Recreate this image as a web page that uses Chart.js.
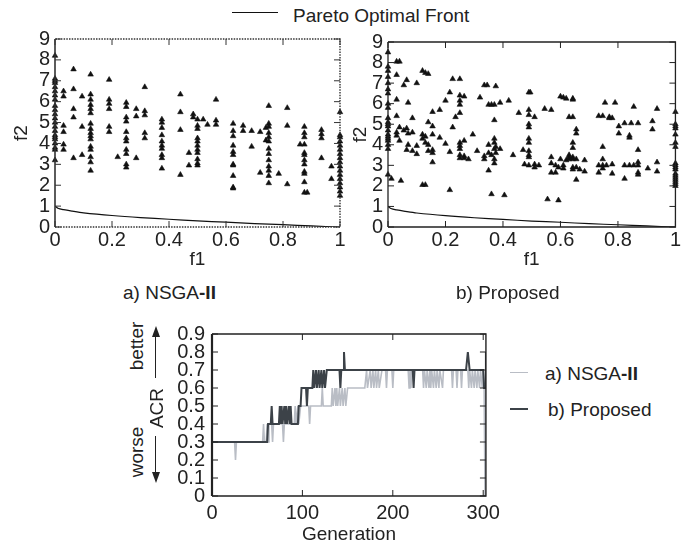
<!DOCTYPE html>
<html>
<head>
<meta charset="utf-8">
<script src="https://cdn.jsdelivr.net/npm/chart.js@4.4.1/dist/chart.umd.min.js"></script>
<style>
body{margin:0;width:682px;height:549px;position:relative;background:#fff;overflow:hidden;
  font-family:"Liberation Sans",Arial,sans-serif;color:#222}
canvas{position:absolute}
.t{position:absolute;font-size:19px;line-height:19px;white-space:nowrap}
.rot{position:absolute;font-size:19px;line-height:19px;white-space:nowrap;transform:translate(-50%,-50%) rotate(-90deg)}
.ln{position:absolute;height:0}
.shaft{position:absolute;width:0;border-left:1.6px solid #222}
.head-up{position:absolute;width:0;height:0;border-left:4px solid transparent;border-right:4px solid transparent;border-bottom:11px solid #222}
.head-dn{position:absolute;width:0;height:0;border-left:4px solid transparent;border-right:4px solid transparent;border-top:11px solid #222}
</style>
</head>
<body>

<!-- top legend -->
<div class="ln" style="left:232px;top:12px;width:46px;border-top:1.3px solid #111"></div>
<div class="t" style="left:293px;top:6px">Pareto Optimal Front</div>

<canvas id="chartA" width="350" height="255" style="left:0;top:20px"></canvas>
<canvas id="chartB" width="347" height="255" style="left:335px;top:20px"></canvas>
<canvas id="chartC" width="340" height="234" style="left:165px;top:315px"></canvas>

<div class="t" style="left:123px;top:283px">a) NSGA<b>-II</b></div>
<div class="t" style="left:456px;top:283px">b) Proposed</div>

<!-- ACR side label -->
<div class="rot" style="left:136px;top:346px">better</div>
<div class="rot" style="left:136px;top:452px">worse</div>
<div class="rot" style="left:156px;top:408px">ACR</div>
<div class="shaft" style="left:155px;top:336px;height:42px"></div>
<div class="head-up" style="left:152px;top:326px"></div>
<div class="shaft" style="left:155px;top:436px;height:42px"></div>
<div class="head-dn" style="left:152px;top:472px"></div>

<!-- bottom legend -->
<div class="ln" style="left:510px;top:372px;width:18px;border-top:1.6px solid #b9bdc5"></div>
<div class="t" style="left:545px;top:364px">a) NSGA<b>-II</b></div>
<div class="ln" style="left:510px;top:408px;width:18px;border-top:2px solid #3c4248"></div>
<div class="t" style="left:548px;top:400px">b) Proposed</div>

<script>
// a) NSGA-II final population: [f1, [f2 values in that column]]
var nsgaCols = [
  [0, [8.2,7.1,7.0,6.9,6.7,6.5,6.3,6.1,5.8,5.6,5.4,5.2,5.0,4.8,4.6,4.4,4.3,4.2,4.0,3.8,3.7,3.2]],
  [0.03, [6.5,6.25,4.85,4.55,3.95,3.7]],
  [0.065, [7.55,6.6,5.65,5.25,3.3]],
  [0.095, [6.25,4.8,3.45]],
  [0.125, [7.3,6.35,6.1,5.85,5.65,5.45,4.95,4.7,4.5,4.35,4.2,3.85,3.7,3.35,3.1,2.7]],
  [0.19, [7.05,6.1,5.9,5.65,4.8,4.55]],
  [0.22, [3.35]],
  [0.25, [5.95,5.75,5.25,5.05,4.55,4.25,4.1,3.7,3.5,3.0,2.85]],
  [0.285, [5.65,5.3,3.3]],
  [0.315, [6.7,5.55,5.35,4.5,4.25]],
  [0.375, [5.15,5.0,4.75,4.4,4.1,3.9,3.75,3.45,3.3,2.8]],
  [0.44, [6.35,5.5,4.65,2.5]],
  [0.47, [3.55,2.95]],
  [0.485, [5.4,5.25]],
  [0.5, [5.15,4.85,4.7,4.25,4.1,3.9,3.7,3.55,3.25,3.05,2.95]],
  [0.52, [5.15]],
  [0.535, [4.9]],
  [0.565, [6.1,5.1,4.9]],
  [0.625, [4.95,4.6,4.35,3.9,3.6,3.45,3.0,2.95,2.45,1.9,1.85]],
  [0.66, [4.85,4.6]],
  [0.69, [4.6,3.85]],
  [0.72, [4.55,2.6]],
  [0.74, [4.75,4.15]],
  [0.75, [5.8,4.95,4.8,4.5,4.3,4.1,3.75,3.5,3.2,2.9,2.7,2.45,2.1]],
  [0.785, [2.55]],
  [0.815, [5.7,4.85,2.05]],
  [0.86, [3.95]],
  [0.875, [4.8,4.5,4.3,3.95,3.55,3.45,3.2,3.0,2.65,2.55,2.15,1.65]],
  [0.885, [1.65]],
  [0.935, [4.65,4.45,4.25,3.3]],
  [0.97, [2.9,2.3]],
  [1, [5.5,4.4,4.3,4.1,3.9,3.7,3.5,3.3,3.1,2.9,2.7,2.5,2.3,2.1,1.9,1.7,1.5]]
]

// b) Proposed final population
var propCols = [
  [0, [8.5,7.8,7.6,7.3,7.0,6.7,6.5,6.0,5.8,5.3,5.1,5.0,4.9,4.7,4.5,4.4,4.3,4.2,4.0,3.8,2.55]],
  [0.012, [2.35]],
  [0.03, [8.05,7.4,6.2,5.4,4.6,4.45]],
  [0.04, [8.05,4.85,4.2]],
  [0.045, [2.25]],
  [0.055, [6.9,4.7]],
  [0.065, [7.15,4.8,3.75]],
  [0.07, [6.05,4.55,4.0]],
  [0.085, [5.3,4.6,3.7]],
  [0.1, [7.0,3.95,3.55]],
  [0.12, [7.6,4.5,4.3,2.05]],
  [0.13, [7.5,4.4,4.1,2.05]],
  [0.14, [7.45,5.1,4.0,3.7]],
  [0.155, [5.6,4.9,4.5,3.75,3.6,3.15]],
  [0.18, [5.7,4.35]],
  [0.2, [6.15,4.05]],
  [0.215, [6.55,3.65,1.8]],
  [0.225, [7.2,4.85]],
  [0.235, [5.35]],
  [0.25, [7.2,6.4,6.15,5.95,5.55,4.1,3.95,3.8,3.5,3.35]],
  [0.265, [6.35,4.2,3.45,3.35]],
  [0.28, [3.3]],
  [0.295, [4.5]],
  [0.31, [3.7]],
  [0.32, [6.3]],
  [0.335, [6.9,3.45,3.3]],
  [0.345, [6.9]],
  [0.35, [5.95,4.0,3.6,2.75]],
  [0.36, [5.95,3.5,1.6]],
  [0.37, [5.95,5.2,4.3,4.1,3.8,3.3,3.1]],
  [0.375, [6.85,3.9,3.6]],
  [0.39, [6.05,3.8]],
  [0.405, [1.55]],
  [0.42, [6.15]],
  [0.435, [3.5]],
  [0.455, [5.55]],
  [0.47, [3.75]],
  [0.475, [3.05]],
  [0.49, [6.55,5.7,5.45,5.0,4.85,4.3,4.1,3.7,3.5,3.4,3.0]],
  [0.495, [6.55]],
  [0.51, [5.35,3.05,2.9]],
  [0.525, [3.0]],
  [0.545, [5.75]],
  [0.555, [1.35]],
  [0.568, [5.7,3.4,3.1,2.65]],
  [0.583, [3.0,2.65]],
  [0.593, [2.9,1.3]],
  [0.6, [6.35,3.3]],
  [0.61, [6.3,3.0,2.85]],
  [0.62, [6.25,3.25]],
  [0.63, [5.35,3.5,3.4,3.3]],
  [0.643, [6.25,6.2,5.35,4.1,3.85,3.4,3.3,2.9,2.8]],
  [0.655, [4.75,4.55,3.3,2.9,2.3]],
  [0.667, [2.8]],
  [0.684, [3.25,2.7]],
  [0.733, [5.4,3.0,2.65]],
  [0.747, [5.4,3.9,3.3,3.0,2.85]],
  [0.755, [6.05]],
  [0.76, [3.0]],
  [0.77, [5.35,5.3]],
  [0.78, [5.3,3.05,2.6]],
  [0.79, [6.05]],
  [0.803, [4.9,4.55]],
  [0.823, [5.05,3.0,2.35]],
  [0.84, [4.45,4.35,3.0]],
  [0.846, [5.05]],
  [0.855, [5.85,3.0]],
  [0.87, [5.05,3.75,3.15,3.0,2.65,2.55]],
  [0.904, [2.85]],
  [0.92, [5.15,4.75]],
  [0.936, [5.75,3.15,2.7]],
  [1, [5.6,5.0,4.9,4.8,4.5,4.1,3.9,3.1,3.0,2.9,2.8,2.6,2.5,2.4,2.3,2.2,2.1,2.0]]
]

// Pareto optimal front
var paretoF1 = [0,0.01,0.03,0.06,0.1,0.2,0.3,0.4,0.5,0.6,0.7,0.8,0.9,1]
var paretoF2 = [1.0,0.9,0.83,0.76,0.68,0.55,0.45,0.37,0.29,0.23,0.16,0.11,0.05,0.0]

// ACR per generation (vertices of the traces)
var acrNsga = [
  [0,.3],[25,.3],[26,.2],[27,.3],[56,.3],[57,.4],[58,.3],[60,.3],[61,.4],[62,.3],[63,.4],[66,.4],[67,.3],[68,.4],
  [78,.4],[79,.3],[80,.4],[91,.4],[92,.5],[93,.4],[95,.5],[96,.4],[98,.5],[107,.5],[108,.4],[109,.5],
  [121,.5],[122,.6],[123,.5],[132,.5],[133,.6],[134,.5],[136,.6],[137,.5],[138,.6],[139,.5],[141,.6],[142,.5],
  [144,.6],[145,.5],[147,.6],[148,.5],[150,.6],[169,.6],[171,.7],[172,.6],[175,.7],[176,.6],[178,.7],[179,.6],
  [181,.7],[182,.6],[184,.7],[185,.6],[188,.7],[192,.7],[193,.6],[194,.7],[199,.7],[200,.6],[201,.7],
  [217,.7],[218,.6],[219,.7],[220,.6],[221,.7],[233,.7],[234,.6],[235,.7],[237,.6],[238,.7],[240,.6],[241,.7],
  [242,.6],[243,.7],[245,.6],[246,.7],[248,.6],[249,.7],[251,.6],[252,.7],[255,.6],[256,.7],[265,.7],[266,.6],
  [267,.7],[270,.7],[271,.6],[272,.7],[275,.7],[276,.6],[277,.7],[283,.7],[284,.6],[285,.7],[287,.6],[288,.7],
  [290,.6],[291,.7],[293,.6],[294,.7],[296,.6],[297,.7],[299,.6],[300,.7],[301,.6],[302,0],[303,.7]
]
var acrProposed = [
  [0,.3],[61,.3],[62,.4],[65,.4],[66,.5],[67,.4],[74,.4],[75,.5],[76,.4],[77,.5],[78,.4],[80,.5],[81,.4],
  [82,.5],[83,.4],[85,.5],[86,.4],[87,.5],[88,.4],[95,.4],[96,.5],[98,.5],[99,.6],[104,.6],[105,.5],[106,.6],
  [111,.6],[112,.7],[113,.6],[115,.7],[116,.6],[118,.7],[119,.6],[121,.7],[122,.6],[124,.7],[125,.6],[127,.7],
  [141,.7],[142,.6],[143,.7],[145,.7],[146,.8],[147,.7],[222,.7],[223,.6],[224,.7],[281,.7],[283,.8],[285,.7],
  [300,.7],[301,.6],[302,.6],[303,.8]
]

var xTicksA = [0,0.2,0.4,0.6,0.8,1]
var yTicksA = [0,1,2,3,4,5,6,7,8,9]
var genTicks = [0,100,200,300]
var acrTicks = [0,0.1,0.2,0.3,0.4,0.5,0.6,0.7,0.8,0.9]

Chart.defaults.font.family = '"Liberation Sans", Arial, sans-serif'
Chart.defaults.font.size = 19
Chart.defaults.color = '#222'
Chart.defaults.animation = false
Chart.defaults.plugins.legend.display = false
Chart.defaults.plugins.tooltip.enabled = false

function flat(cols){
  var out=[]
  cols.forEach(function(c){ c[1].forEach(function(v){ out.push({x:c[0], y:v}) }) })
  return out
}
function pairs(list){ return list.map(function(p){ return {x:p[0], y:p[1]} }) }
var paretoData = paretoF1.map(function(v,i){ return {x:v, y:paretoF2[i]} })
function fmt(v){ return String(Math.round(v*10)/10) }

// box round the plot with small ticks pointing in, like gnuplot
var framePlugin = {
  id:'frame',
  afterDraw: function(chart, args, o){
    var a=chart.chartArea, c=chart.ctx, xs=chart.scales.x, ys=chart.scales.y
    c.save()
    c.strokeStyle=o.color; c.lineWidth=o.width
    c.setLineDash(o.dash||[])
    c.beginPath()
    c.moveTo(a.left,a.bottom); c.lineTo(a.right,a.bottom); c.lineTo(a.right,a.top); c.lineTo(a.left,a.top)
    c.stroke()
    c.setLineDash([])
    c.lineWidth=o.leftWidth||o.width
    c.beginPath(); c.moveTo(a.left,a.top); c.lineTo(a.left,a.bottom); c.stroke()
    c.lineWidth=1
    c.beginPath()
    xs.ticks.forEach(function(t){
      var p=xs.getPixelForValue(t.value)
      c.moveTo(p,a.bottom); c.lineTo(p,a.bottom-6)
      c.moveTo(p,a.top); c.lineTo(p,a.top+6)
    })
    ys.ticks.forEach(function(t){
      var p=ys.getPixelForValue(t.value)
      c.moveTo(a.left,p); c.lineTo(a.left+6,p)
      c.moveTo(a.right,p); c.lineTo(a.right-6,p)
    })
    c.stroke()
    c.restore()
  }
}

function axis(min,max,ticks,size,title,tickPad,titlePad){
  return {type:'linear',min:min,max:max,
    afterBuildTicks:function(s){ s.ticks = ticks.map(function(v){ return {value:v} }) },
    ticks:{padding:tickPad,maxRotation:0,autoSkip:false,callback:fmt,font:{size:20}},
    grid:{display:false,drawTicks:false},border:{display:false},
    title:{display:!!title,text:title,padding:{top:titlePad,bottom:titlePad}},
    afterFit:function(s){ if(s.isHorizontal()) s.height=size; else s.width=size }}
}

function scatterChart(id, cols, pad, yW, titlePadY, frame){
  return new Chart(document.getElementById(id),{
    type:'scatter',
    data:{datasets:[
      {data:flat(cols),pointStyle:'triangle',pointRadius:3.2,backgroundColor:'#111',borderColor:'#111',borderWidth:0.6,clip:false},
      {data:paretoData,showLine:true,pointRadius:0,borderColor:'#111',borderWidth:1.2,tension:0.3}
    ]},
    options:{responsive:false,
      layout:{padding:pad},
      scales:{x:axis(0,1,xTicksA,48,'f1',1,4), y:axis(0,9,yTicksA,yW,'f2',5,titlePadY)},
      plugins:{frame:frame}
    },
    plugins:[framePlugin]
  })
}

scatterChart('chartA', nsgaCols, {left:0,right:10,top:19,bottom:0}, 55, 10,
  {color:'#333',width:1.4,dash:[1.5,1.2],leftWidth:1.6})
scatterChart('chartB', propCols, {left:0,right:6,top:22,bottom:0}, 53, 14,
  {color:'#222',width:1.3})

new Chart(document.getElementById('chartC'),{
  type:'line',
  data:{datasets:[
    {data:pairs(acrNsga),borderColor:'#b9bdc5',borderWidth:1.6,pointRadius:0,order:2},
    {data:pairs(acrProposed),borderColor:'#3c4248',borderWidth:2,pointRadius:0,order:1}
  ]},
  options:{responsive:false,
    layout:{padding:{left:0,right:10,top:11,bottom:0}},
    scales:{x:axis(0,303,genTicks,53,'Generation',5,3), y:axis(0,0.9,acrTicks,47,'',7,0)},
    plugins:{frame:{color:'#222',width:1.4,leftWidth:2.2}}
  },
  plugins:[framePlugin]
})
</script>
</body>
</html>
